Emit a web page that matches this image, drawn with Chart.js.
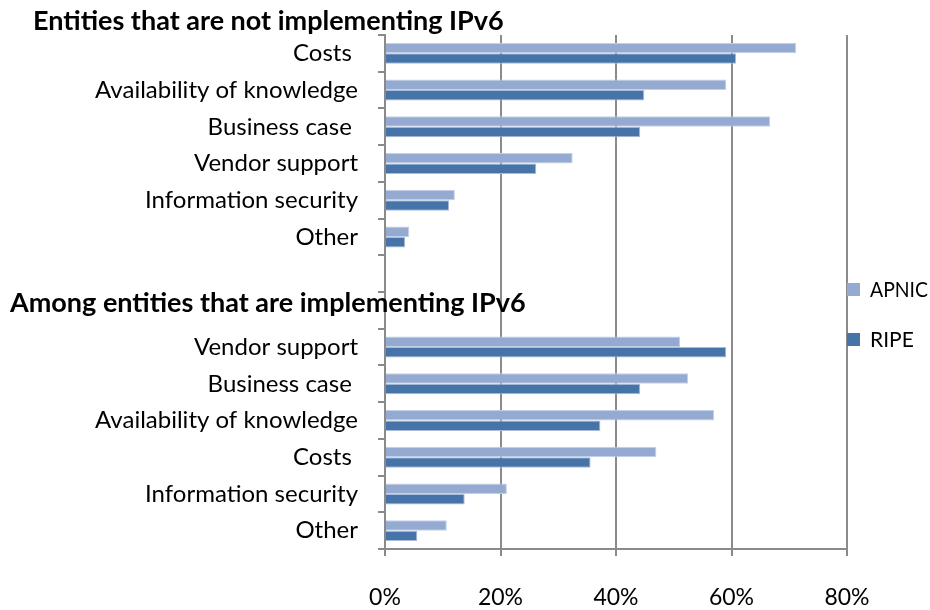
<!DOCTYPE html>
<html>
<head>
<meta charset="utf-8">
<script src="https://cdn.jsdelivr.net/npm/chart.js@4.4.1/dist/chart.umd.min.js"></script>
<style>
  html, body { margin: 0; padding: 0; background: #fff; }
  #wrap { width: 930px; height: 610px; position: relative; }
</style>
</head>
<body>
<div id="wrap"><canvas id="ipv6Chart" width="930" height="610"></canvas></div>
<script>
// Categories, two groups separated by blank rows for the group titles
var categories = ['Costs ', 'Availability of knowledge', 'Business case ', 'Vendor support', 'Information security', 'Other',
                  '', '',
                  'Vendor support', 'Business case ', 'Availability of knowledge', 'Costs ', 'Information security', 'Other'];
var apnic = [71.2, 59.1, 66.7, 32.5, 12.1, 4.2, null, null, 51.1, 52.5, 57.0, 47.0, 21.1, 10.7];
var ripe  = [60.8, 44.9, 44.2, 26.2, 11.1, 3.5, null, null, 59.1, 44.2, 37.3, 35.6, 13.8, 5.6];
var xTicks = [0, 20, 40, 60, 80];
var groupTitles = ['Entities that are not implementing IPv6', 'Among entities that are implementing IPv6'];

var apnicColor = '#95aad1';
var ripeColor = '#4674a8';
var gridColor = '#8a8a8a';
var font = 'Lato';

// Titles and legend drawn on top
var overlay = {
  id: 'overlay',
  afterDraw: function(chart) {
    var c = chart.ctx;
    c.save();
    c.fillStyle = '#000';
    c.textBaseline = 'middle';
    c.textAlign = 'left';
    c.font = 'bold 27px ' + font;
    c.fillText(groupTitles[0], 33, 21, 480);
    c.fillText(groupTitles[1], 10, 303, 525);

    // legend
    var items = chart.data.datasets;
    var ys = [290, 340];
    c.font = '21px ' + font;
    items.forEach(function(ds, i) {
      c.fillStyle = ds.backgroundColor;
      c.fillRect(847, ys[i] - 7, 13, 13);
      c.fillStyle = '#000';
      c.fillText(ds.label, 870, ys[i], 58);
    });
    c.restore();
  }
};

var ctx = document.getElementById('ipv6Chart').getContext('2d');
var ipv6Chart = new Chart(ctx, {
  type: 'bar',
  data: {
    labels: categories,
    datasets: [{
      label: 'APNIC',
      data: apnic,
      backgroundColor: apnicColor,
      borderColor: '#c3d0e8',
      borderWidth: 1,
      categoryPercentage: 0.57,
      barPercentage: 1.0
    }, {
      label: 'RIPE',
      data: ripe,
      backgroundColor: ripeColor,
      borderColor: '#a9bcd8',
      borderWidth: 1,
      categoryPercentage: 0.57,
      barPercentage: 1.0
    }]
  },
  options: {
    indexAxis: 'y',
    responsive: false,
    animation: false,
    layout: { padding: { left: 0, right: 83, top: 35, bottom: 0 } },
    plugins: {
      legend: { display: false },
      tooltip: { enabled: false }
    },
    scales: {
      x: {
        min: 0,
        max: 80,
        afterBuildTicks: function(scale) {
          scale.ticks = xTicks.map(function(v) { return { value: v }; });
        },
        afterFit: function(scale) { scale.height = 61; },
        grid: { color: gridColor, lineWidth: 2, tickLength: 7 },
        border: { color: gridColor, width: 2 },
        ticks: {
          color: '#000',
          padding: 28,
          font: { family: font, size: 23 },
          callback: function(v) { return v + '%'; }
        }
      },
      y: {
        afterFit: function(scale) { scale.width = 385; },
        grid: { drawOnChartArea: false, color: gridColor, lineWidth: 2, tickLength: 7, offset: true },
        border: { color: gridColor, width: 2 },
        ticks: {
          color: '#000',
          padding: 20,
          autoSkip: false,
          font: { family: font, size: 24 }
        }
      }
    }
  },
  plugins: [overlay]
});
</script>
</body>
</html>
